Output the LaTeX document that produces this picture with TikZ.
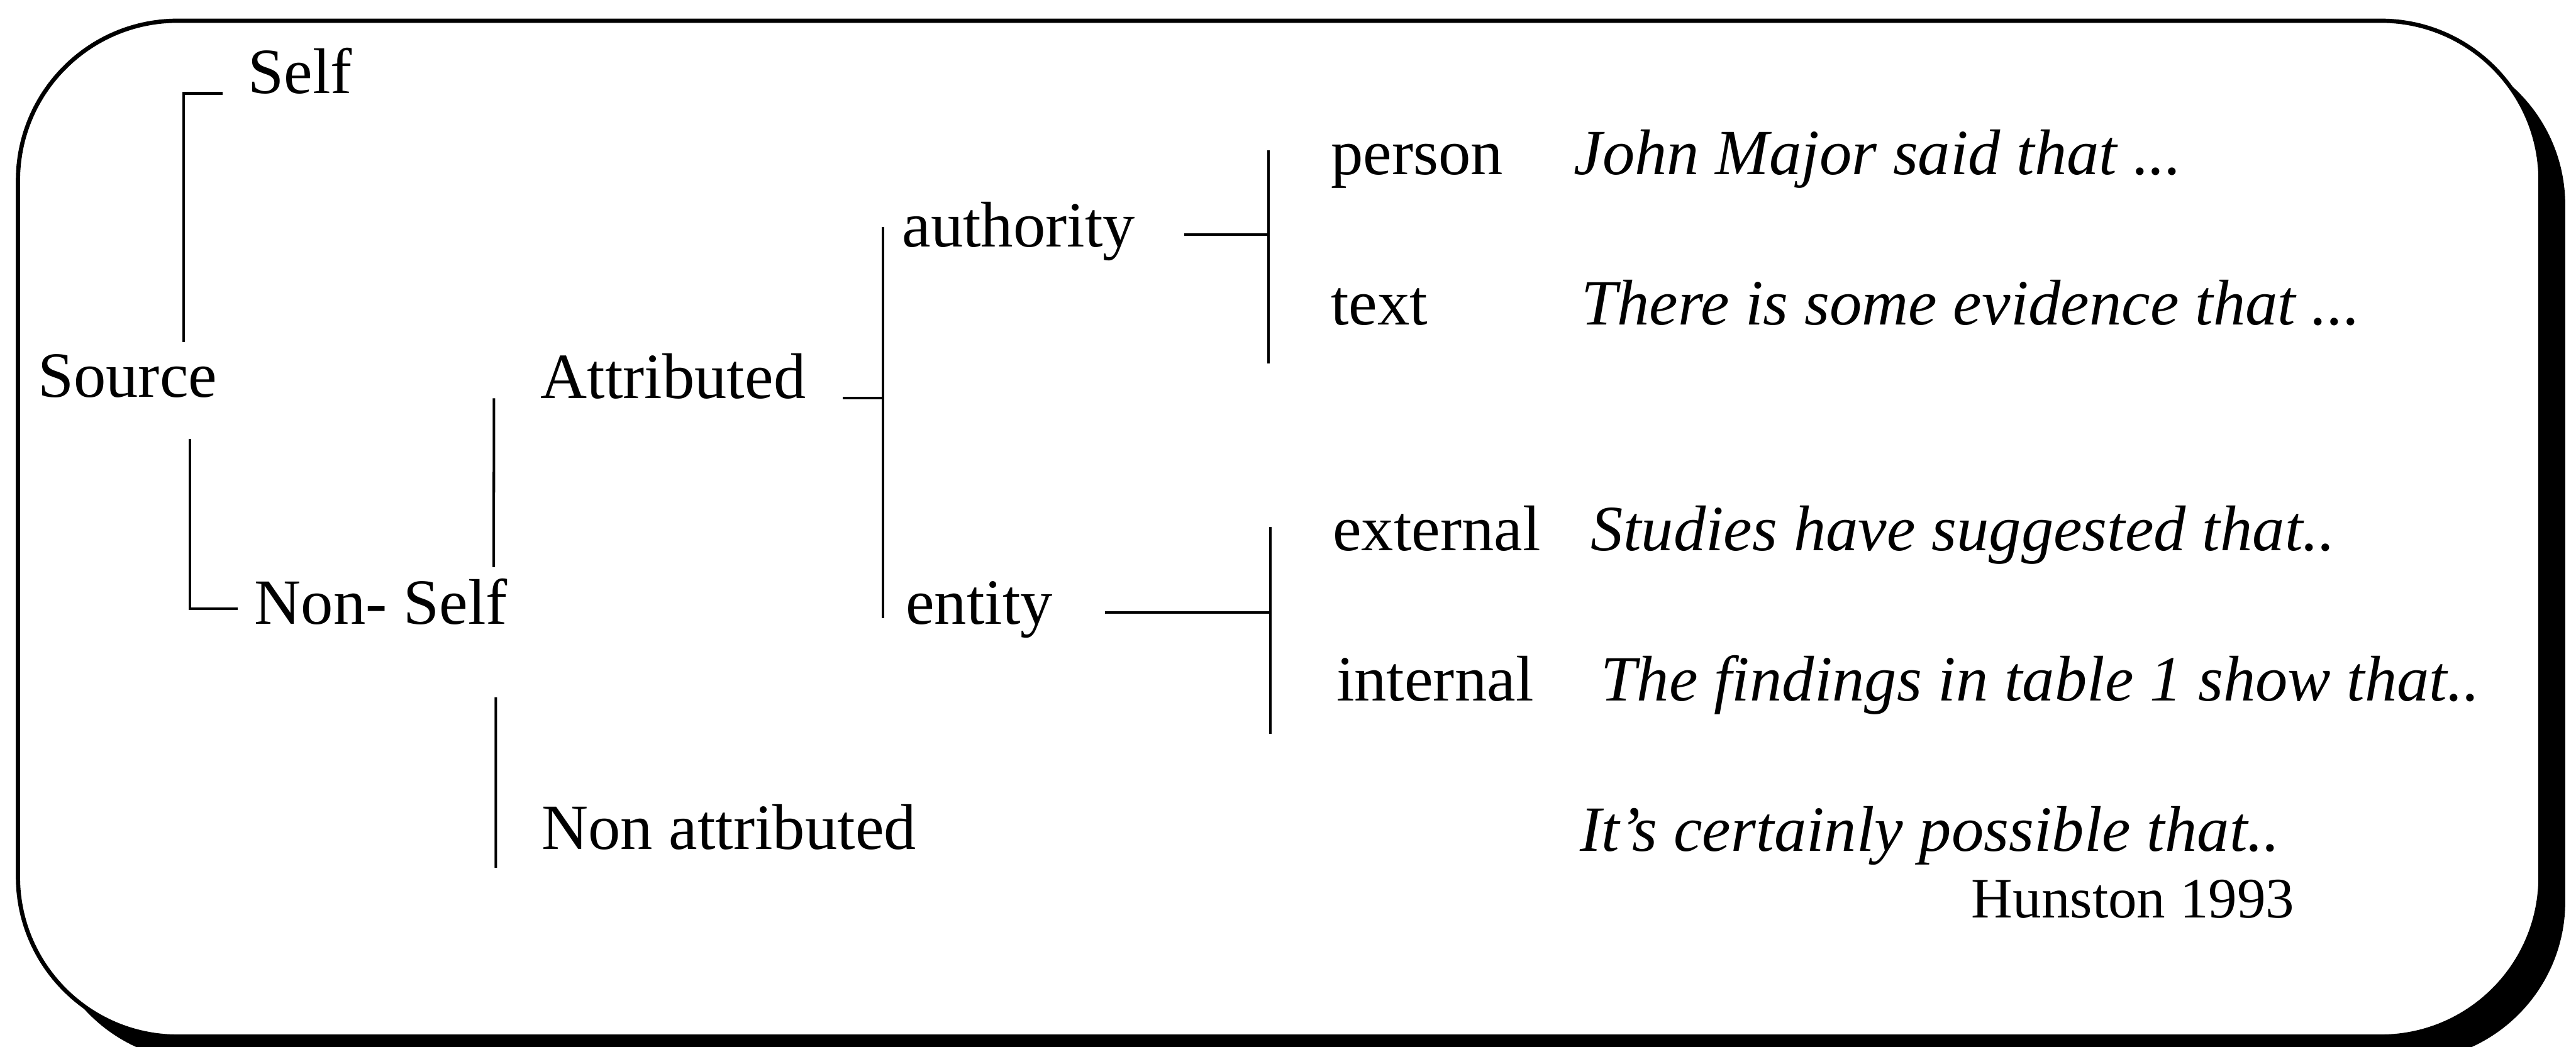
\documentclass[tikz,border=0pt]{standalone}
\usepackage{fontspec}
\setmainfont{Liberation Serif}
\usetikzlibrary{calc}

\begin{document}
\begin{tikzpicture}[
    lbl/.style={inner sep=0pt, anchor=base west, font=\fontsize{11.5}{13}\selectfont},
    exlbl/.style={lbl, font=\fontsize{11.5}{13}\selectfont\itshape},
    reflbl/.style={lbl, font=\fontsize{10.2}{12}\selectfont},
    br/.style={line width=0.45pt}]
  \useasboundingbox (0,0) rectangle (16.1325,6.555);
  \fill[black, rounded corners=1cm] (0.2675,-0.0925) rectangle (16.065,6.27);
  \draw[line width=0.75pt, fill=white, rounded corners=1cm] (0.1125,0.0625) rectangle (15.91,6.425);

  \node[lbl] (self) at (1.548,5.97) {Self};
  \node[lbl] (src) at (0.23,4.0675) {Source};
  \node[lbl] (nself) at (1.5875,2.6475) {Non- Self};
  \node[lbl] (attr) at (3.378,4.06) {Attributed};
  \node[lbl] (nattr) at (3.385,1.2375) {Non attributed};
  \node[lbl] (auth) at (5.643,5.01) {authority};
  \node[lbl] (ent) at (5.665,2.645) {entity};
  \node[lbl] (pers) at (8.3275,5.46) {person};
  \node[lbl] (txt) at (8.3275,4.52) {text};
  \node[lbl] (ext) at (8.34,3.1075) {external};
  \node[lbl] (int) at (8.3625,2.165) {internal};
  \node[exlbl] (ex1) at (9.85,5.46) {John Major said that ...};
  \node[exlbl] (ex2) at (9.895,4.52) {There is some evidence that ...};
  \node[exlbl] (ex3) at (9.9575,3.1075) {Studies have suggested that..};
  \node[exlbl] (ex4) at (10.02,2.165) {The findings in table 1 show that..};
  \node[exlbl] (ex5) at (9.8875,1.225) {It’s certainly possible that..};
  \node[reflbl] (ref) at (12.34,0.8075) {Hunston 1993};

  \draw[br] ([xshift=-0.155cm]self.base west) -| ([xshift=0.35cm,yshift=2pt]src.north);
  \draw[br] ([xshift=0.39cm,yshift=-0.25cm]src.south) |- ([shift={(-0.1,0.095)}]nself.base west);
  \draw[br] ([xshift=-0.285cm]attr.base west) -- ([shift={(1.505,0.355)}]nself.base west);
  \draw[br] ([shift={(1.5175,-0.46)}]nself.base west) -- ([shift={(-0.28,-0.1175)}]nattr.base west);

  \draw[br] ([shift={(-0.113,0.125)}]auth.base west) coordinate (aj) -- ($(aj |- ent.base west)+(0,0.04)$);
  \draw[br] ([xshift=0.225cm]attr.base east) coordinate (ah) -- (ah -| aj);

  \draw[br] ([shift={(-0.385,0.155)}]pers.base west) coordinate (pj) -- ($(pj |- txt.base west)+(0,-0.2425)$);
  \draw[br] ([shift={(0.3,0.075)}]auth.base east) coordinate (ph) -- (ph -| pj);

  \draw[br] ([shift={(-0.385,0.145)}]ext.base west) coordinate (ej) -- ($(ej |- int.base west)+(0,-0.2075)$);
  \draw[br] ([shift={(0.32,0.0725)}]ent.base east) coordinate (eh) -- (eh -| ej);
\end{tikzpicture}
\end{document}
